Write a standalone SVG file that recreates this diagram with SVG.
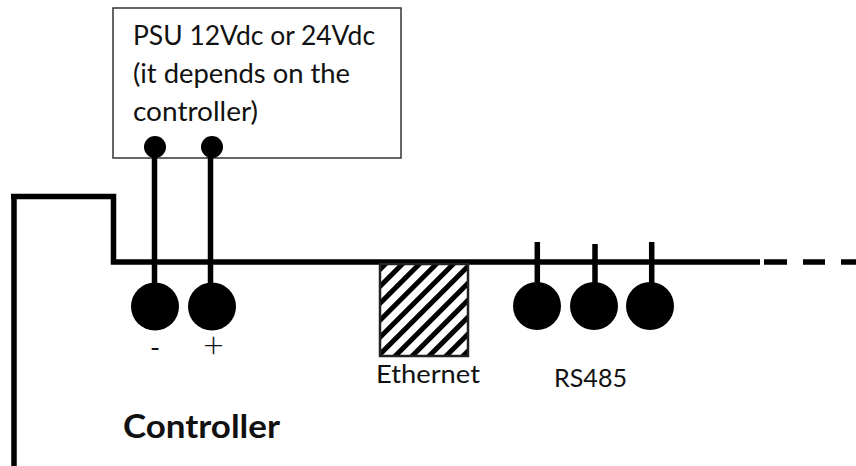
<svg xmlns="http://www.w3.org/2000/svg" width="856" height="466" viewBox="0 0 856 466">
<style>
text{font-family:Lato,"Open Sans","Liberation Sans",sans-serif;fill:#111}
.t{font-size:26px}
.w{fill:none;stroke:#000;stroke-width:5.5}
.d{fill:#000}
</style>
<defs>
<pattern id="hatch" patternUnits="userSpaceOnUse" width="12" height="12" patternTransform="translate(379 264) rotate(-45) translate(0 2)">
<rect x="0" y="0" width="12" height="5" fill="#000"/>
</pattern>
</defs>
<rect width="856" height="466" fill="#fff"/>
<g id="psu">
<rect x="113" y="8" width="288" height="150" fill="#fff" stroke="#333" stroke-width="1.5"/>
<text class="t" x="133" y="45" textLength="242" lengthAdjust="spacingAndGlyphs">PSU 12Vdc or 24Vdc</text>
<text class="t" x="133" y="83" textLength="217" lengthAdjust="spacingAndGlyphs">(it depends on the</text>
<text class="t" x="133" y="121" textLength="125" lengthAdjust="spacingAndGlyphs">controller)</text>
<circle class="d" cx="155" cy="147" r="11"/>
<circle class="d" cx="212" cy="147" r="11"/>
</g>
<g id="connectors">
<path class="w" d="M11 196.500H113.500V262H760"/>
<path class="w" d="M14 196.500V466"/>
<path class="w" d="M154.500 150V290M210.500 150V290"/>
<path class="w" d="M537.300 242V290M595 244V290M651.700 242V290"/>
<path class="w" d="M764 262H787M803 262H825M841 262H856"/>
</g>
<g id="terminal-minus">
<circle class="d" cx="155" cy="306.500" r="24"/>
<text x="155" y="357" font-size="27" text-anchor="middle">-</text>
</g>
<g id="terminal-plus">
<circle class="d" cx="212" cy="306.500" r="24"/>
<text x="213.500" y="358" font-size="36" font-weight="300" text-anchor="middle">+</text>
</g>
<g id="ethernet">
<rect x="380" y="264" width="88" height="92" fill="#fff"/>
<rect x="380" y="264" width="88" height="92" fill="url(#hatch)" stroke="#222" stroke-width="2.500"/>
<text x="376" y="383" font-size="25" textLength="104" lengthAdjust="spacingAndGlyphs">Ethernet</text>
</g>
<g id="rs485">
<circle class="d" cx="537" cy="306" r="24"/>
<circle class="d" cx="594" cy="306" r="24"/>
<circle class="d" cx="650" cy="306" r="24"/>
<text x="554" y="387" font-size="25" textLength="73" lengthAdjust="spacingAndGlyphs">RS485</text>
</g>
<g id="controller">
<text x="123" y="438" font-size="32" font-weight="700" textLength="157" lengthAdjust="spacingAndGlyphs">Controller</text>
</g>
</svg>
